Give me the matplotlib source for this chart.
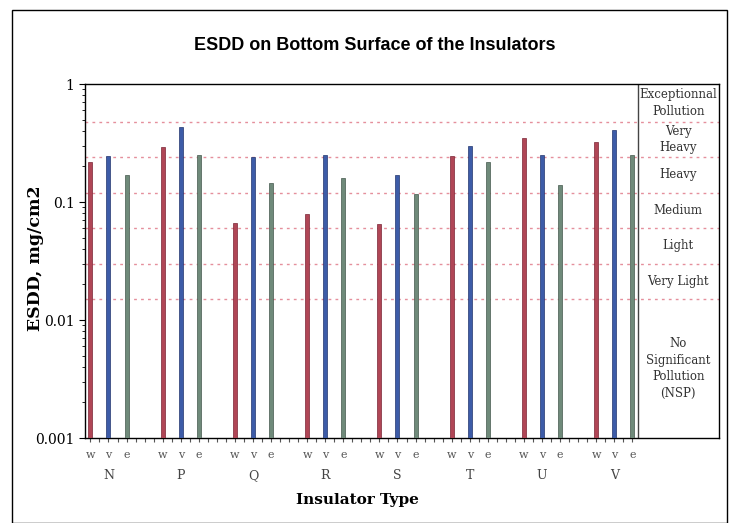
import numpy as np
import matplotlib
matplotlib.use('Agg')
import matplotlib.pyplot as plt
from matplotlib.patches import Rectangle
from matplotlib.transforms import blended_transform_factory

# insulator types and the three ESDD readings per type (mg/cm2)
insulators = ['N', 'P', 'Q', 'R', 'S', 'T', 'U', 'V']
sub_labels = ['w', 'v', 'e']
esdd_w = [0.22, 0.29, 0.067, 0.079, 0.065, 0.245, 0.35, 0.32]
esdd_v = [0.245, 0.43, 0.24, 0.25, 0.17, 0.30, 0.25, 0.41]
esdd_e = [0.17, 0.25, 0.145, 0.16, 0.116, 0.217, 0.14, 0.25]

# site pollution severity classes (upper limits)
class_limits = [0.015, 0.03, 0.06, 0.12, 0.24, 0.48]
class_names = ['No\nSignificant\nPollution\n(NSP)', 'Very Light', 'Light', 'Medium',
               'Heavy', 'Very\nHeavy', 'Exceptionnal\nPollution']

colors = ['#b04656', '#3d5ca8', '#6f8a7a']
edges = ['#7a2535', '#22356e', '#44584c']

fig = plt.figure(figsize=(7.38, 5.23), dpi=100)
fig.patches.append(Rectangle((12/738, 0.0), 715/738, 1-10/523, transform=fig.transFigure,
                             fill=False, edgecolor='black', linewidth=1.0))

ax = fig.add_axes([85/738, 1-438/523, 634/738, 354/523])
ax.set_yscale('log')
ax.set_ylim(0.001, 1)
ax.set_xlim(-0.3, 34.8)

for k, (vals, c, ec) in enumerate(zip([esdd_w, esdd_v, esdd_e], colors, edges)):
    x = np.arange(len(insulators)) * 4 + k
    ax.bar(x, np.array(vals) - 0.001, bottom=0.001, width=0.22, color=c,
           edgecolor=ec, linewidth=0.5, zorder=3)

for lim in class_limits:
    ax.axhline(lim, color='#e58f9c', linestyle=(0, (2, 3)), linewidth=1.0, zorder=1)

# divider between the plot and the class table
ax.axvline(30.3, color='#444444', linewidth=1.0)
bounds = [0.001] + class_limits + [1.0]
for name, lo, hi in zip(class_names, bounds[:-1], bounds[1:]):
    ax.text(32.55, np.sqrt(lo * hi), name, ha='center', va='center', fontsize=8.5,
            family='DejaVu Serif', color='#333333', linespacing=1.35)

for s in ax.spines.values():
    s.set_linewidth(1.0)

ax.set_yticks([0.001, 0.01, 0.1, 1])
ax.set_yticklabels(['0.001', '0.01', '0.1', '1'], family='DejaVu Serif', fontsize=10)
ax.tick_params(axis='y', which='major', length=4, direction='out')
ax.tick_params(axis='y', which='minor', length=2.5, direction='out')
ax.set_xticks(np.arange(0, 30.5, 0.5))
ax.set_xticklabels([])
ax.tick_params(axis='x', length=3, direction='out', color='#555555')

trans = blended_transform_factory(ax.transData, ax.transAxes)
for i, name in enumerate(insulators):
    for k, sl in enumerate(sub_labels):
        ax.text(i * 4 + k, -0.048, sl, transform=trans, ha='center', va='center',
                fontsize=8, family='DejaVu Serif', color='#555555')
    ax.text(i * 4 + 1, -0.105, name, transform=trans, ha='center', va='center',
            fontsize=9, family='DejaVu Serif', color='#444444')

fig.text(0.508, 1-45/523, 'ESDD on Bottom Surface of the Insulators', ha='center', va='center',
         fontsize=13, fontweight='bold', family='Liberation Sans')
fig.text(0.048, 1-258/523, 'ESDD, mg/cm2', rotation=90, ha='center', va='center',
         fontsize=12.5, fontweight='bold', family='DejaVu Serif')
fig.text(357/738, 1-500/523, 'Insulator Type', ha='center', va='center',
         fontsize=11, fontweight='bold', family='DejaVu Serif')

fig.savefig('out.png', dpi=100)
